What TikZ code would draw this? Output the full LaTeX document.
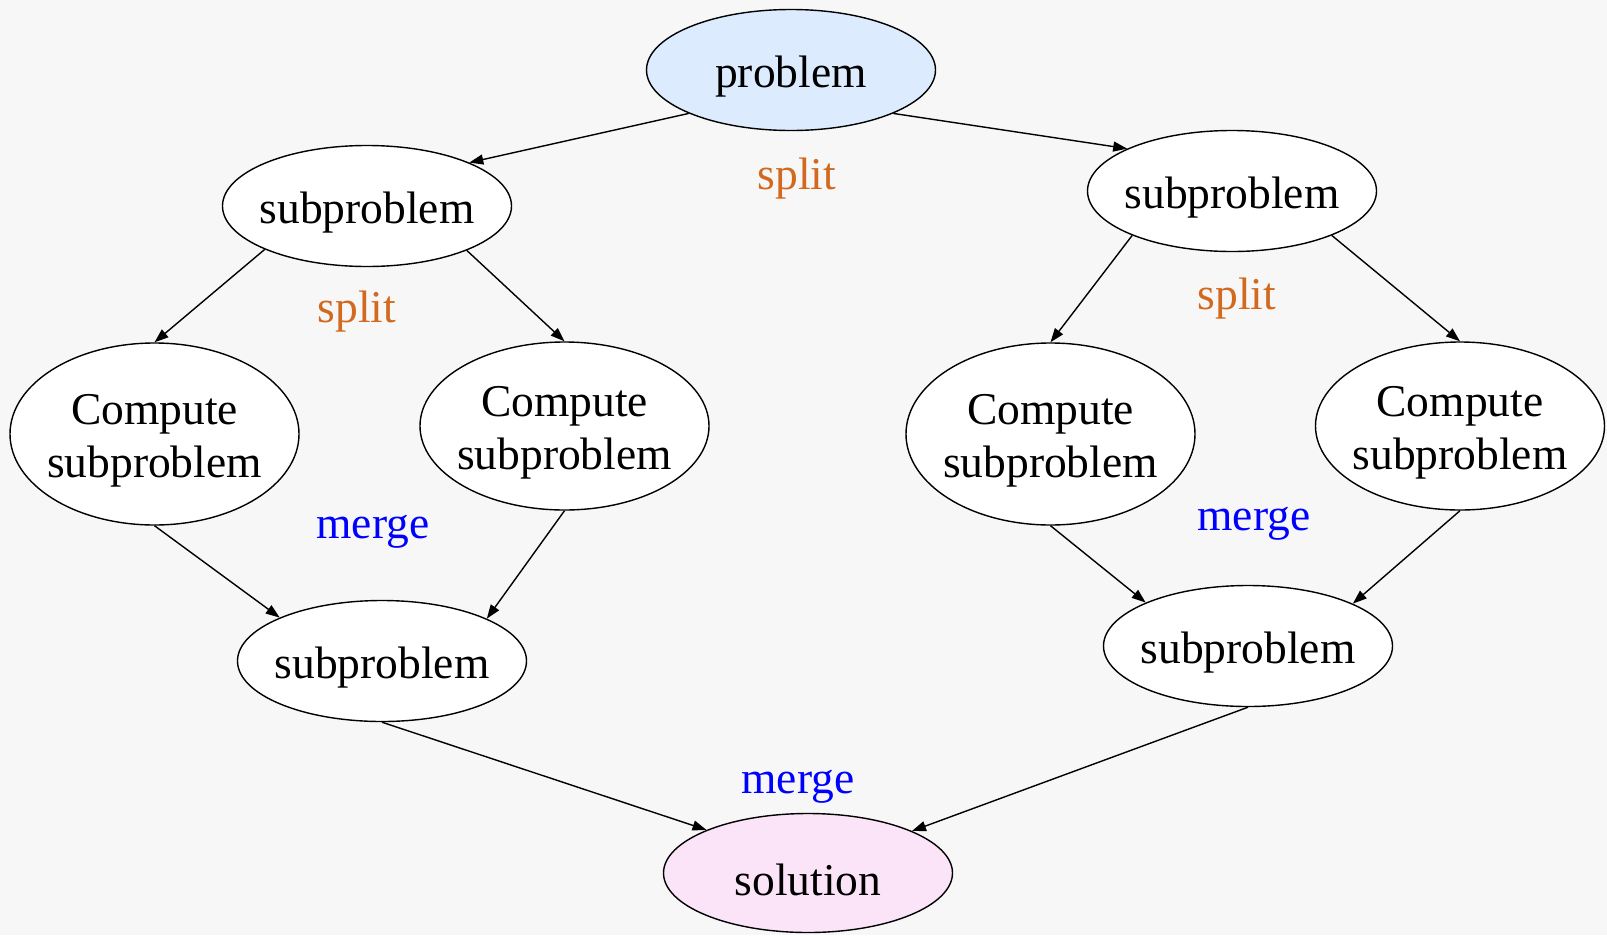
\documentclass[tikz,border=0pt]{standalone}
\usepackage{fontspec}
\setmainfont{Liberation Serif}
\usetikzlibrary{shapes.geometric,arrows.meta}
\definecolor{bg}{HTML}{F7F7F7}
\definecolor{probfill}{HTML}{DDEBFF}
\definecolor{solfill}{HTML}{FCE4F8}
\definecolor{splitc}{HTML}{D2691E}
\definecolor{mergec}{HTML}{0000FF}
\begin{document}
\begin{tikzpicture}[x=1pt,y=-1pt,
  ell/.style={draw=black, line width=1.4pt, ellipse, fill=white, inner sep=0pt,
    minimum width=289pt, minimum height=121pt},
  tall/.style={ell, minimum height=182pt},
  mid/.style={ell, minimum height=168pt},
  txt/.style={font=\fontsize{45.5}{53}\selectfont, align=center, text=black, yshift=-7pt},
  splitlbl/.style={font=\fontsize{45.5}{53}\selectfont, text=splitc, inner sep=0pt},
  mergelbl/.style={font=\fontsize{45.5}{53}\selectfont, text=mergec, inner sep=0pt},
  edge/.style={draw=black, line width=1.4pt, -{Triangle[length=14pt,width=10pt]}}]
\useasboundingbox (0,0) rectangle (1607,935);
\fill[bg] (0,0) rectangle (1607,935);

\node[ell, fill=probfill, label={[txt]center:problem}] (p) at (791,70) {};
\node[ell, label={[txt]center:subproblem}] (s1) at (367,206) {};
\node[ell, label={[txt]center:subproblem}] (s2) at (1232,191) {};
\node[tall, label={[txt]center:Compute\\subproblem}] (c1) at (154.5,434) {};
\node[mid, label={[txt]center:Compute\\subproblem}] (c2) at (564.5,426) {};
\node[tall, label={[txt]center:Compute\\subproblem}] (c3) at (1050.5,434) {};
\node[mid, label={[txt]center:Compute\\subproblem}] (c4) at (1460,426) {};
\node[ell, label={[txt]center:subproblem}] (m1) at (382,661) {};
\node[ell, label={[txt]center:subproblem}] (m2) at (1248,646) {};
\node[ell, fill=solfill, minimum height=119pt, label={[txt]center:solution}] (sol) at (808,873) {};

\node[splitlbl] (l1) at (797,179) {split};
\node[splitlbl] (l2) at (357,312) {split};
\node[splitlbl] (l3) at (1237,299) {split};
\node[mergelbl] (l4) at (373,532) {merge};
\node[mergelbl] (l5) at (1254,524) {merge};
\node[mergelbl] (l6) at (798,787) {merge};

\draw[edge] (p.203) -- (s1.23);
\draw[edge] (p.337) -- (s2.158);
\draw[edge] (s1.203.5) -- (c1.90);
\draw[edge] (s1.336.5) -- (c2.90);
\draw[edge] (s2.204) -- (c3.90);
\draw[edge] (s2.336) -- (c4.90);
\draw[edge] (c1.270) -- (m1.157);
\draw[edge] (c2.270) -- (m1.22.6);
\draw[edge] (c3.270) -- (m2.157);
\draw[edge] (c4.270) -- (m2.22);
\draw[edge] (m1.270) -- (sol.157.5);
\draw[edge] (m2.270) -- (sol.22);
\end{tikzpicture}
\end{document}
